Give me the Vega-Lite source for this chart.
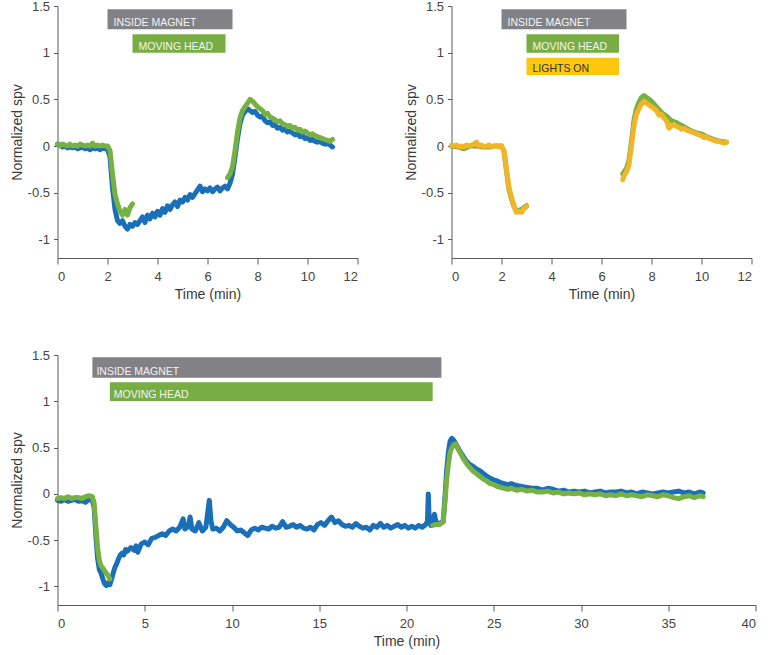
{
  "$schema": "https://vega.github.io/schema/vega-lite/v6.json",
  "background": "white",
  "padding": {"left": 9.5, "top": 0, "right": 5, "bottom": 5},
  "config": {
    "view": {"stroke": null},
    "font": "Liberation Sans",
    "axis": {"grid": false, "domainColor": "#5a5a5a", "tickColor": "#5a5a5a", "tickSize": 4, "labelFontSize": 13, "titleFontSize": 14, "labelColor": "#444444", "titleColor": "#3a3a3a", "titleFontWeight": "normal", "labelPadding": 4, "labelFont": "Liberation Sans", "titleFont": "Liberation Sans"},
    "axisY": {"titlePadding": 3},
    "axisX": {"titlePadding": 4, "tickSize": 6, "labelPadding": 6}
  },
  "datasets": {
    "barsA": [
      {"label": "INSIDE MAGNET", "t": 2, "t2": 7, "v": 1.25, "v2": 1.465},
      {"label": "MOVING HEAD", "t": 3, "t2": 6.72, "v": 1.0, "v2": 1.197}
    ],
    "barsB": [
      {"label": "INSIDE MAGNET", "t": 2, "t2": 7, "v": 1.25, "v2": 1.465},
      {"label": "MOVING HEAD", "t": 3, "t2": 6.7, "v": 1.0, "v2": 1.197},
      {"label": "LIGHTS ON", "t": 3, "t2": 6.7, "v": 0.76, "v2": 0.946}
    ],
    "barsC": [
      {"label": "INSIDE MAGNET", "t": 2, "t2": 22, "v": 1.255, "v2": 1.475},
      {"label": "MOVING HEAD", "t": 3, "t2": 21.5, "v": 1.004, "v2": 1.205}
    ],
    "aBlue": [
      {"t":0.0,"v":0.02},{"t":0.1,"v":0.01},{"t":0.2,"v":-0.01},{"t":0.3,"v":0.0},{"t":0.4,"v":-0.02},{"t":0.5,"v":-0.01},{"t":0.6,"v":-0.02},{"t":0.7,"v":-0.01},{"t":0.8,"v":-0.03},{"t":0.9,"v":-0.02},
      {"t":1.0,"v":-0.01},{"t":1.1,"v":-0.03},{"t":1.2,"v":-0.02},{"t":1.3,"v":-0.04},{"t":1.4,"v":-0.02},{"t":1.5,"v":-0.03},{"t":1.6,"v":-0.02},{"t":1.7,"v":-0.04},{"t":1.8,"v":-0.02},{"t":1.9,"v":-0.03},
      {"t":2.0,"v":-0.03},{"t":2.1,"v":-0.12},{"t":2.2,"v":-0.45},{"t":2.3,"v":-0.68},{"t":2.4,"v":-0.8},{"t":2.5,"v":-0.83},{"t":2.6,"v":-0.8},{"t":2.7,"v":-0.86},{"t":2.8,"v":-0.89},{"t":2.9,"v":-0.84},
      {"t":3.0,"v":-0.86},{"t":3.1,"v":-0.82},{"t":3.2,"v":-0.84},{"t":3.3,"v":-0.8},{"t":3.4,"v":-0.76},{"t":3.5,"v":-0.82},{"t":3.6,"v":-0.74},{"t":3.7,"v":-0.78},{"t":3.8,"v":-0.72},{"t":3.9,"v":-0.76},
      {"t":4.0,"v":-0.7},{"t":4.1,"v":-0.74},{"t":4.2,"v":-0.67},{"t":4.3,"v":-0.71},{"t":4.4,"v":-0.64},{"t":4.5,"v":-0.68},{"t":4.6,"v":-0.63},{"t":4.7,"v":-0.6},{"t":4.8,"v":-0.65},{"t":4.9,"v":-0.58},
      {"t":5.0,"v":-0.6},{"t":5.1,"v":-0.55},{"t":5.2,"v":-0.58},{"t":5.3,"v":-0.52},{"t":5.4,"v":-0.55},{"t":5.5,"v":-0.51},{"t":5.6,"v":-0.47},{"t":5.7,"v":-0.43},{"t":5.8,"v":-0.49},{"t":5.9,"v":-0.46},
      {"t":6.0,"v":-0.48},{"t":6.1,"v":-0.45},{"t":6.2,"v":-0.49},{"t":6.3,"v":-0.46},{"t":6.4,"v":-0.44},{"t":6.5,"v":-0.48},{"t":6.6,"v":-0.45},{"t":6.7,"v":-0.43},{"t":6.8,"v":-0.46},{"t":6.9,"v":-0.4},
      {"t":7.0,"v":-0.3},{"t":7.1,"v":-0.12},{"t":7.2,"v":0.08},{"t":7.3,"v":0.24},{"t":7.4,"v":0.33},{"t":7.5,"v":0.37},{"t":7.6,"v":0.4},{"t":7.7,"v":0.38},{"t":7.8,"v":0.36},{"t":7.9,"v":0.37},
      {"t":8.0,"v":0.33},{"t":8.1,"v":0.31},{"t":8.2,"v":0.32},{"t":8.3,"v":0.27},{"t":8.4,"v":0.25},{"t":8.5,"v":0.26},{"t":8.6,"v":0.22},{"t":8.7,"v":0.23},{"t":8.8,"v":0.19},{"t":8.9,"v":0.2},
      {"t":9.0,"v":0.17},{"t":9.1,"v":0.18},{"t":9.2,"v":0.15},{"t":9.3,"v":0.16},{"t":9.4,"v":0.14},{"t":9.5,"v":0.12},{"t":9.6,"v":0.13},{"t":9.7,"v":0.1},{"t":9.8,"v":0.11},{"t":9.9,"v":0.08},
      {"t":10.0,"v":0.09},{"t":10.1,"v":0.06},{"t":10.2,"v":0.07},{"t":10.3,"v":0.05},{"t":10.4,"v":0.04},{"t":10.5,"v":0.05},{"t":10.6,"v":0.03},{"t":10.7,"v":0.02},{"t":10.8,"v":0.03},{"t":10.9,"v":0.01},{"t":11.0,"v":-0.01}
    ],
    "aGreen": [
      {"k":1,"t":0.0,"v":0.02},{"k":1,"t":0.1,"v":0.0},{"k":1,"t":0.2,"v":0.02},{"k":1,"t":0.3,"v":0.01},{"k":1,"t":0.4,"v":0.0},{"k":1,"t":0.5,"v":0.02},{"k":1,"t":0.6,"v":0.0},{"k":1,"t":0.7,"v":0.01},{"k":1,"t":0.8,"v":0.0},{"k":1,"t":0.9,"v":0.02},
      {"k":1,"t":1.0,"v":0.01},{"k":1,"t":1.1,"v":0.0},{"k":1,"t":1.2,"v":0.01},{"k":1,"t":1.3,"v":0.0},{"k":1,"t":1.4,"v":0.03},{"k":1,"t":1.5,"v":0.0},{"k":1,"t":1.6,"v":0.01},{"k":1,"t":1.7,"v":0.0},{"k":1,"t":1.8,"v":0.01},{"k":1,"t":1.9,"v":0.0},
      {"k":1,"t":2.0,"v":0.0},{"k":1,"t":2.1,"v":-0.05},{"k":1,"t":2.2,"v":-0.3},{"k":1,"t":2.3,"v":-0.52},{"k":1,"t":2.4,"v":-0.62},{"k":1,"t":2.5,"v":-0.7},{"k":1,"t":2.6,"v":-0.74},{"k":1,"t":2.7,"v":-0.68},{"k":1,"t":2.8,"v":-0.74},{"k":1,"t":2.9,"v":-0.66},{"k":1,"t":3.0,"v":-0.62},
      {"k":2,"t":6.8,"v":-0.34},{"k":2,"t":6.9,"v":-0.3},{"k":2,"t":7.0,"v":-0.22},{"k":2,"t":7.1,"v":-0.05},{"k":2,"t":7.2,"v":0.15},{"k":2,"t":7.3,"v":0.3},{"k":2,"t":7.4,"v":0.38},{"k":2,"t":7.5,"v":0.42},{"k":2,"t":7.6,"v":0.46},{"k":2,"t":7.7,"v":0.5},
      {"k":2,"t":7.8,"v":0.48},{"k":2,"t":7.9,"v":0.45},{"k":2,"t":8.0,"v":0.42},{"k":2,"t":8.1,"v":0.4},{"k":2,"t":8.2,"v":0.38},{"k":2,"t":8.3,"v":0.34},{"k":2,"t":8.4,"v":0.35},{"k":2,"t":8.5,"v":0.31},{"k":2,"t":8.6,"v":0.3},{"k":2,"t":8.7,"v":0.28},
      {"k":2,"t":8.8,"v":0.26},{"k":2,"t":8.9,"v":0.27},{"k":2,"t":9.0,"v":0.24},{"k":2,"t":9.1,"v":0.23},{"k":2,"t":9.2,"v":0.21},{"k":2,"t":9.3,"v":0.22},{"k":2,"t":9.4,"v":0.19},{"k":2,"t":9.5,"v":0.2},{"k":2,"t":9.6,"v":0.17},{"k":2,"t":9.7,"v":0.18},
      {"k":2,"t":9.8,"v":0.15},{"k":2,"t":9.9,"v":0.16},{"k":2,"t":10.0,"v":0.14},{"k":2,"t":10.1,"v":0.12},{"k":2,"t":10.2,"v":0.13},{"k":2,"t":10.3,"v":0.11},{"k":2,"t":10.4,"v":0.1},{"k":2,"t":10.5,"v":0.09},{"k":2,"t":10.6,"v":0.08},{"k":2,"t":10.7,"v":0.07},
      {"k":2,"t":10.8,"v":0.06},{"k":2,"t":10.9,"v":0.05},{"k":2,"t":11.0,"v":0.07}
    ],
    "bGreen": [
      {"k":1,"t":0.0,"v":0.0},{"k":1,"t":0.25,"v":-0.01},{"k":1,"t":0.5,"v":-0.03},{"k":1,"t":0.75,"v":0.0},{"k":1,"t":1.0,"v":0.0},{"k":1,"t":1.25,"v":-0.01},{"k":1,"t":1.5,"v":-0.01},{"k":1,"t":1.75,"v":0.0},{"k":1,"t":2.0,"v":0.0},
      {"k":1,"t":2.1,"v":-0.06},{"k":1,"t":2.2,"v":-0.27},{"k":1,"t":2.3,"v":-0.47},{"k":1,"t":2.4,"v":-0.57},{"k":1,"t":2.5,"v":-0.65},{"k":1,"t":2.6,"v":-0.7},{"k":1,"t":2.7,"v":-0.69},{"k":1,"t":2.8,"v":-0.68},{"k":1,"t":2.9,"v":-0.66},{"k":1,"t":3.0,"v":-0.64},
      {"k":2,"t":6.85,"v":-0.3},{"k":2,"t":7.0,"v":-0.24},{"k":2,"t":7.1,"v":-0.15},{"k":2,"t":7.2,"v":0.05},{"k":2,"t":7.3,"v":0.28},{"k":2,"t":7.4,"v":0.4},{"k":2,"t":7.5,"v":0.47},{"k":2,"t":7.6,"v":0.52},{"k":2,"t":7.7,"v":0.54},{"k":2,"t":7.8,"v":0.52},
      {"k":2,"t":7.9,"v":0.5},{"k":2,"t":8.0,"v":0.48},{"k":2,"t":8.2,"v":0.42},{"k":2,"t":8.4,"v":0.36},{"k":2,"t":8.6,"v":0.32},{"k":2,"t":8.8,"v":0.27},{"k":2,"t":9.0,"v":0.25},{"k":2,"t":9.2,"v":0.22},{"k":2,"t":9.4,"v":0.19},{"k":2,"t":9.6,"v":0.16},
      {"k":2,"t":9.8,"v":0.14},{"k":2,"t":10.0,"v":0.13},{"k":2,"t":10.2,"v":0.1},{"k":2,"t":10.4,"v":0.08},{"k":2,"t":10.6,"v":0.06},{"k":2,"t":10.8,"v":0.05},{"k":2,"t":11.0,"v":0.04}
    ],
    "bYellow": [
      {"k":1,"t":0.0,"v":0.01},{"k":1,"t":0.1,"v":0.0},{"k":1,"t":0.2,"v":0.01},{"k":1,"t":0.3,"v":-0.01},{"k":1,"t":0.4,"v":0.0},{"k":1,"t":0.5,"v":-0.01},{"k":1,"t":0.6,"v":0.01},{"k":1,"t":0.7,"v":0.0},{"k":1,"t":0.8,"v":0.01},{"k":1,"t":0.9,"v":0.02},
      {"k":1,"t":1.0,"v":0.04},{"k":1,"t":1.1,"v":0.0},{"k":1,"t":1.2,"v":0.01},{"k":1,"t":1.3,"v":-0.01},{"k":1,"t":1.4,"v":0.0},{"k":1,"t":1.5,"v":0.01},{"k":1,"t":1.6,"v":-0.01},{"k":1,"t":1.7,"v":0.0},{"k":1,"t":1.8,"v":0.0},{"k":1,"t":1.9,"v":-0.01},
      {"k":1,"t":2.0,"v":0.0},{"k":1,"t":2.1,"v":-0.05},{"k":1,"t":2.2,"v":-0.25},{"k":1,"t":2.3,"v":-0.45},{"k":1,"t":2.4,"v":-0.55},{"k":1,"t":2.5,"v":-0.64},{"k":1,"t":2.6,"v":-0.71},{"k":1,"t":2.7,"v":-0.7},{"k":1,"t":2.8,"v":-0.71},{"k":1,"t":2.9,"v":-0.67},{"k":1,"t":3.0,"v":-0.65},
      {"k":2,"t":6.85,"v":-0.36},{"k":2,"t":6.9,"v":-0.32},{"k":2,"t":7.0,"v":-0.28},{"k":2,"t":7.1,"v":-0.2},{"k":2,"t":7.2,"v":0.0},{"k":2,"t":7.3,"v":0.22},{"k":2,"t":7.4,"v":0.34},{"k":2,"t":7.5,"v":0.4},{"k":2,"t":7.6,"v":0.45},{"k":2,"t":7.7,"v":0.48},
      {"k":2,"t":7.8,"v":0.46},{"k":2,"t":7.9,"v":0.44},{"k":2,"t":8.0,"v":0.42},{"k":2,"t":8.1,"v":0.4},{"k":2,"t":8.2,"v":0.38},{"k":2,"t":8.3,"v":0.33},{"k":2,"t":8.4,"v":0.34},{"k":2,"t":8.5,"v":0.3},{"k":2,"t":8.6,"v":0.27},{"k":2,"t":8.7,"v":0.19},
      {"k":2,"t":8.8,"v":0.22},{"k":2,"t":8.9,"v":0.23},{"k":2,"t":9.0,"v":0.21},{"k":2,"t":9.1,"v":0.2},{"k":2,"t":9.2,"v":0.18},{"k":2,"t":9.3,"v":0.19},{"k":2,"t":9.4,"v":0.17},{"k":2,"t":9.5,"v":0.16},{"k":2,"t":9.6,"v":0.15},{"k":2,"t":9.7,"v":0.14},
      {"k":2,"t":9.8,"v":0.13},{"k":2,"t":9.9,"v":0.12},{"k":2,"t":10.0,"v":0.11},{"k":2,"t":10.1,"v":0.09},{"k":2,"t":10.2,"v":0.1},{"k":2,"t":10.3,"v":0.08},{"k":2,"t":10.4,"v":0.07},{"k":2,"t":10.5,"v":0.06},{"k":2,"t":10.6,"v":0.05},{"k":2,"t":10.7,"v":0.05},
      {"k":2,"t":10.8,"v":0.04},{"k":2,"t":10.9,"v":0.03},{"k":2,"t":11.0,"v":0.04}
    ],
    "cBlue": [
      {"t":0.0,"v":-0.07},{"t":0.2,"v":-0.08},{"t":0.4,"v":-0.06},{"t":0.6,"v":-0.08},{"t":0.8,"v":-0.07},{"t":1.0,"v":-0.06},{"t":1.2,"v":-0.08},{"t":1.4,"v":-0.07},{"t":1.6,"v":-0.09},{"t":1.8,"v":-0.06},
      {"t":2.0,"v":-0.07},{"t":2.1,"v":-0.15},{"t":2.2,"v":-0.45},{"t":2.3,"v":-0.7},{"t":2.4,"v":-0.82},{"t":2.5,"v":-0.86},{"t":2.6,"v":-0.92},{"t":2.7,"v":-0.97},{"t":2.8,"v":-0.99},{"t":2.9,"v":-0.96},
      {"t":3.0,"v":-0.98},{"t":3.1,"v":-0.92},{"t":3.2,"v":-0.85},{"t":3.3,"v":-0.79},{"t":3.4,"v":-0.75},{"t":3.5,"v":-0.7},{"t":3.6,"v":-0.66},{"t":3.7,"v":-0.64},{"t":3.8,"v":-0.66},{"t":3.9,"v":-0.6},
      {"t":4.0,"v":-0.62},{"t":4.2,"v":-0.58},{"t":4.4,"v":-0.61},{"t":4.5,"v":-0.56},{"t":4.6,"v":-0.63},{"t":4.8,"v":-0.54},{"t":5.0,"v":-0.52},{"t":5.2,"v":-0.55},{"t":5.4,"v":-0.48},{"t":5.6,"v":-0.47},
      {"t":5.8,"v":-0.45},{"t":6.0,"v":-0.43},{"t":6.2,"v":-0.45},{"t":6.4,"v":-0.4},{"t":6.6,"v":-0.38},{"t":6.8,"v":-0.4},{"t":7.0,"v":-0.36},{"t":7.2,"v":-0.27},{"t":7.3,"v":-0.38},{"t":7.5,"v":-0.35},
      {"t":7.6,"v":-0.25},{"t":7.7,"v":-0.38},{"t":7.9,"v":-0.4},{"t":8.1,"v":-0.31},{"t":8.3,"v":-0.4},{"t":8.5,"v":-0.36},{"t":8.7,"v":-0.07},{"t":8.8,"v":-0.3},{"t":8.9,"v":-0.38},{"t":9.1,"v":-0.37},
      {"t":9.3,"v":-0.4},{"t":9.5,"v":-0.36},{"t":9.7,"v":-0.29},{"t":9.9,"v":-0.33},{"t":10.1,"v":-0.36},{"t":10.3,"v":-0.4},{"t":10.5,"v":-0.39},{"t":10.7,"v":-0.42},{"t":10.9,"v":-0.45},{"t":11.1,"v":-0.39},
      {"t":11.3,"v":-0.37},{"t":11.5,"v":-0.39},{"t":11.7,"v":-0.36},{"t":11.9,"v":-0.37},{"t":12.1,"v":-0.38},{"t":12.3,"v":-0.35},{"t":12.5,"v":-0.37},{"t":12.7,"v":-0.36},{"t":12.9,"v":-0.3},{"t":13.1,"v":-0.36},
      {"t":13.3,"v":-0.35},{"t":13.5,"v":-0.33},{"t":13.7,"v":-0.36},{"t":13.9,"v":-0.34},{"t":14.1,"v":-0.37},{"t":14.3,"v":-0.38},{"t":14.5,"v":-0.36},{"t":14.7,"v":-0.39},{"t":14.9,"v":-0.33},{"t":15.1,"v":-0.31},
      {"t":15.3,"v":-0.34},{"t":15.5,"v":-0.29},{"t":15.7,"v":-0.25},{"t":15.9,"v":-0.31},{"t":16.1,"v":-0.29},{"t":16.3,"v":-0.33},{"t":16.5,"v":-0.35},{"t":16.7,"v":-0.34},{"t":16.9,"v":-0.36},{"t":17.1,"v":-0.32},
      {"t":17.3,"v":-0.35},{"t":17.5,"v":-0.37},{"t":17.7,"v":-0.36},{"t":17.9,"v":-0.39},{"t":18.1,"v":-0.34},{"t":18.3,"v":-0.36},{"t":18.5,"v":-0.32},{"t":18.7,"v":-0.36},{"t":18.9,"v":-0.34},{"t":19.1,"v":-0.37},
      {"t":19.3,"v":-0.35},{"t":19.5,"v":-0.33},{"t":19.7,"v":-0.36},{"t":19.9,"v":-0.34},{"t":20.1,"v":-0.37},{"t":20.3,"v":-0.35},{"t":20.5,"v":-0.37},{"t":20.7,"v":-0.34},{"t":20.9,"v":-0.36},{"t":21.1,"v":-0.33},
      {"t":21.2,"v":-0.3},{"t":21.25,"v":0.0},{"t":21.3,"v":-0.3},{"t":21.4,"v":-0.34},{"t":21.6,"v":-0.22},{"t":21.7,"v":-0.31},{"t":21.9,"v":-0.32},{"t":22.1,"v":-0.3},{"t":22.2,"v":-0.05},{"t":22.3,"v":0.25},
      {"t":22.4,"v":0.45},{"t":22.5,"v":0.57},{"t":22.6,"v":0.6},{"t":22.7,"v":0.58},{"t":22.8,"v":0.55},{"t":23.0,"v":0.48},{"t":23.2,"v":0.42},{"t":23.4,"v":0.36},{"t":23.6,"v":0.32},{"t":23.8,"v":0.3},
      {"t":24.0,"v":0.27},{"t":24.2,"v":0.25},{"t":24.4,"v":0.22},{"t":24.6,"v":0.19},{"t":24.8,"v":0.17},{"t":25.0,"v":0.15},{"t":25.2,"v":0.14},{"t":25.4,"v":0.12},{"t":25.6,"v":0.11},{"t":25.8,"v":0.1},
      {"t":26.0,"v":0.11},{"t":26.3,"v":0.09},{"t":26.6,"v":0.08},{"t":26.9,"v":0.07},{"t":27.2,"v":0.06},{"t":27.5,"v":0.06},{"t":27.8,"v":0.04},{"t":28.1,"v":0.06},{"t":28.4,"v":0.05},{"t":28.7,"v":0.03},
      {"t":29.0,"v":0.04},{"t":29.3,"v":0.02},{"t":29.6,"v":0.03},{"t":29.9,"v":0.02},{"t":30.2,"v":0.03},{"t":30.5,"v":0.01},{"t":30.8,"v":0.02},{"t":31.1,"v":0.03},{"t":31.4,"v":0.01},{"t":31.7,"v":0.02},
      {"t":32.0,"v":0.02},{"t":32.3,"v":0.03},{"t":32.6,"v":0.01},{"t":32.9,"v":0.02},{"t":33.2,"v":0.0},{"t":33.5,"v":0.02},{"t":33.8,"v":0.01},{"t":34.1,"v":0.0},{"t":34.4,"v":0.01},{"t":34.7,"v":0.02},
      {"t":35.0,"v":0.01},{"t":35.3,"v":0.02},{"t":35.6,"v":0.03},{"t":35.9,"v":0.01},{"t":36.2,"v":0.02},{"t":36.5,"v":0.0},{"t":36.8,"v":0.02},{"t":37.0,"v":0.01}
    ],
    "cGreen": [
      {"k":1,"t":0.0,"v":-0.05},{"k":1,"t":0.2,"v":-0.04},{"k":1,"t":0.4,"v":-0.05},{"k":1,"t":0.6,"v":-0.03},{"k":1,"t":0.8,"v":-0.05},{"k":1,"t":1.0,"v":-0.04},{"k":1,"t":1.2,"v":-0.04},{"k":1,"t":1.4,"v":-0.05},{"k":1,"t":1.6,"v":-0.03},{"k":1,"t":1.8,"v":-0.02},
      {"k":1,"t":2.0,"v":-0.03},{"k":1,"t":2.1,"v":-0.1},{"k":1,"t":2.2,"v":-0.35},{"k":1,"t":2.3,"v":-0.58},{"k":1,"t":2.4,"v":-0.72},{"k":1,"t":2.5,"v":-0.78},{"k":1,"t":2.6,"v":-0.8},{"k":1,"t":2.7,"v":-0.83},{"k":1,"t":2.8,"v":-0.86},{"k":1,"t":2.9,"v":-0.88},{"k":1,"t":3.0,"v":-0.92},
      {"k":2,"t":21.5,"v":-0.34},{"k":2,"t":21.7,"v":-0.33},{"k":2,"t":21.9,"v":-0.33},{"k":2,"t":22.1,"v":-0.3},{"k":2,"t":22.2,"v":-0.1},{"k":2,"t":22.3,"v":0.15},{"k":2,"t":22.4,"v":0.32},{"k":2,"t":22.5,"v":0.45},{"k":2,"t":22.6,"v":0.5},{"k":2,"t":22.7,"v":0.53},
      {"k":2,"t":22.8,"v":0.54},{"k":2,"t":22.9,"v":0.51},{"k":2,"t":23.0,"v":0.47},{"k":2,"t":23.2,"v":0.4},{"k":2,"t":23.4,"v":0.34},{"k":2,"t":23.6,"v":0.29},{"k":2,"t":23.8,"v":0.25},{"k":2,"t":24.0,"v":0.22},{"k":2,"t":24.2,"v":0.19},{"k":2,"t":24.4,"v":0.16},
      {"k":2,"t":24.6,"v":0.14},{"k":2,"t":24.8,"v":0.11},{"k":2,"t":25.0,"v":0.1},{"k":2,"t":25.2,"v":0.08},{"k":2,"t":25.4,"v":0.07},{"k":2,"t":25.6,"v":0.06},{"k":2,"t":25.8,"v":0.05},{"k":2,"t":26.0,"v":0.06},{"k":2,"t":26.3,"v":0.04},{"k":2,"t":26.6,"v":0.05},
      {"k":2,"t":26.9,"v":0.03},{"k":2,"t":27.2,"v":0.04},{"k":2,"t":27.5,"v":0.02},{"k":2,"t":27.8,"v":0.02},{"k":2,"t":28.1,"v":0.03},{"k":2,"t":28.4,"v":0.01},{"k":2,"t":28.7,"v":0.02},{"k":2,"t":29.0,"v":0.0},{"k":2,"t":29.3,"v":0.01},{"k":2,"t":29.6,"v":0.0},
      {"k":2,"t":29.9,"v":0.01},{"k":2,"t":30.2,"v":-0.01},{"k":2,"t":30.5,"v":0.0},{"k":2,"t":30.8,"v":-0.01},{"k":2,"t":31.1,"v":0.0},{"k":2,"t":31.4,"v":-0.02},{"k":2,"t":31.7,"v":-0.01},{"k":2,"t":32.0,"v":-0.02},{"k":2,"t":32.3,"v":0.0},{"k":2,"t":32.6,"v":-0.02},
      {"k":2,"t":32.9,"v":-0.01},{"k":2,"t":33.2,"v":-0.02},{"k":2,"t":33.5,"v":-0.03},{"k":2,"t":33.8,"v":-0.01},{"k":2,"t":34.1,"v":-0.02},{"k":2,"t":34.4,"v":-0.03},{"k":2,"t":34.7,"v":-0.01},{"k":2,"t":35.0,"v":-0.02},{"k":2,"t":35.3,"v":-0.04},{"k":2,"t":35.6,"v":-0.05},
      {"k":2,"t":35.9,"v":-0.03},{"k":2,"t":36.2,"v":-0.02},{"k":2,"t":36.5,"v":-0.04},{"k":2,"t":36.8,"v":-0.02},{"k":2,"t":37.0,"v":-0.03}
    ]
  },
  "vconcat": [
    {
      "hconcat": [
        {
          "width": 300, "height": 252,
          "layer": [
            {"data": {"name": "barsA"}, "mark": {"type": "rect"},
             "encoding": {
               "x": {"field": "t", "type": "quantitative", "scale": {"domain": [0, 12], "nice": false}, "axis": {"values": [0,2,4,6,8,10,12], "title": "Time (min)"}},
               "x2": {"field": "t2"},
               "y": {"field": "v", "type": "quantitative", "scale": {"domain": [-1.2, 1.5], "nice": false, "zero": false}, "axis": {"values": [-1,-0.5,0,0.5,1,1.5], "title": "Normalized spv", "labelExpr": "toString(datum.value)"}},
               "y2": {"field": "v2"},
               "color": {"field": "label", "type": "nominal", "scale": {"domain": ["INSIDE MAGNET","MOVING HEAD","LIGHTS ON"], "range": ["#818186","#77ad42","#fec70d"]}, "legend": null}
             }},
            {"data": {"name": "barsA"}, "mark": {"type": "text", "align": "left", "baseline": "alphabetic", "dx": 6, "dy": -3, "fontSize": 10.5, "font": "Liberation Sans"},
             "encoding": {
               "x": {"field": "t", "type": "quantitative", "title": "Time (min)"},
               "y": {"field": "v", "type": "quantitative", "title": "Normalized spv"},
               "text": {"field": "label"},
               "color": {"condition": {"test": "datum.label === 'LIGHTS ON'", "value": "#333333"}, "value": "#f4f4f4"}
             }},
            {"mark": {"type": "rule", "color": "#c3c3c3", "strokeWidth": 3, "strokeDash": [9, 3, 3, 3]},
             "encoding": {"y": {"datum": 0, "type": "quantitative"}}},
            {"data": {"name": "aBlue"}, "mark": {"type": "line", "color": "#1a6fb8", "strokeWidth": 5, "strokeJoin": "round", "strokeCap": "round"},
             "encoding": {"x": {"field": "t", "type": "quantitative", "title": "Time (min)"}, "y": {"field": "v", "type": "quantitative", "title": "Normalized spv"}}},
            {"data": {"name": "aGreen"}, "mark": {"type": "line", "color": "#77b043", "strokeWidth": 5, "strokeJoin": "round", "strokeCap": "round"},
             "encoding": {"x": {"field": "t", "type": "quantitative", "title": "Time (min)"}, "y": {"field": "v", "type": "quantitative", "title": "Normalized spv"}, "detail": {"field": "k", "type": "nominal"}}}
          ]
        },
        {
          "width": 300, "height": 252,
          "layer": [
            {"data": {"name": "barsB"}, "mark": {"type": "rect"},
             "encoding": {
               "x": {"field": "t", "type": "quantitative", "scale": {"domain": [0, 12], "nice": false}, "axis": {"values": [0,2,4,6,8,10,12], "title": "Time (min)"}},
               "x2": {"field": "t2"},
               "y": {"field": "v", "type": "quantitative", "scale": {"domain": [-1.2, 1.5], "nice": false, "zero": false}, "axis": {"values": [-1,-0.5,0,0.5,1,1.5], "title": "Normalized spv", "labelExpr": "toString(datum.value)"}},
               "y2": {"field": "v2"},
               "color": {"field": "label", "type": "nominal", "scale": {"domain": ["INSIDE MAGNET","MOVING HEAD","LIGHTS ON"], "range": ["#818186","#77ad42","#fec70d"]}, "legend": null}
             }},
            {"data": {"name": "barsB"}, "mark": {"type": "text", "align": "left", "baseline": "alphabetic", "dx": 6, "dy": -3, "fontSize": 10.5, "font": "Liberation Sans"},
             "encoding": {
               "x": {"field": "t", "type": "quantitative", "title": "Time (min)"},
               "y": {"field": "v", "type": "quantitative", "title": "Normalized spv"},
               "text": {"field": "label"},
               "color": {"condition": {"test": "datum.label === 'LIGHTS ON'", "value": "#333333"}, "value": "#f4f4f4"}
             }},
            {"mark": {"type": "rule", "color": "#c3c3c3", "strokeWidth": 3, "strokeDash": [9, 3, 3, 3]},
             "encoding": {"y": {"datum": 0, "type": "quantitative"}}},
            {"data": {"name": "bGreen"}, "mark": {"type": "line", "color": "#77b043", "strokeWidth": 5, "strokeJoin": "round", "strokeCap": "round"},
             "encoding": {"x": {"field": "t", "type": "quantitative", "title": "Time (min)"}, "y": {"field": "v", "type": "quantitative", "title": "Normalized spv"}, "detail": {"field": "k", "type": "nominal"}}},
            {"data": {"name": "bYellow"}, "mark": {"type": "line", "color": "#f2b52a", "strokeWidth": 5, "strokeJoin": "round", "strokeCap": "round"},
             "encoding": {"x": {"field": "t", "type": "quantitative", "title": "Time (min)"}, "y": {"field": "v", "type": "quantitative", "title": "Normalized spv"}, "detail": {"field": "k", "type": "nominal"}}}
          ]
        }
      ],
      "spacing": 45
    },
    {
      "width": 698, "height": 250,
      "layer": [
        {"data": {"name": "barsC"}, "mark": {"type": "rect"},
         "encoding": {
           "x": {"field": "t", "type": "quantitative", "scale": {"domain": [0, 40], "nice": false}, "axis": {"values": [0,5,10,15,20,25,30,35,40], "title": "Time (min)"}},
           "x2": {"field": "t2"},
           "y": {"field": "v", "type": "quantitative", "scale": {"domain": [-1.2, 1.5], "nice": false, "zero": false}, "axis": {"values": [-1,-0.5,0,0.5,1,1.5], "title": "Normalized spv", "labelExpr": "toString(datum.value)"}},
           "y2": {"field": "v2"},
           "color": {"field": "label", "type": "nominal", "scale": {"domain": ["INSIDE MAGNET","MOVING HEAD","LIGHTS ON"], "range": ["#818186","#77ad42","#fec70d"]}, "legend": null}
         }},
        {"data": {"name": "barsC"}, "mark": {"type": "text", "align": "left", "baseline": "alphabetic", "dx": 4, "dy": -3, "fontSize": 10.5, "font": "Liberation Sans"},
         "encoding": {
           "x": {"field": "t", "type": "quantitative", "title": "Time (min)"},
           "y": {"field": "v", "type": "quantitative", "title": "Normalized spv"},
           "text": {"field": "label"},
           "color": {"value": "#f4f4f4"}
         }},
        {"mark": {"type": "rule", "color": "#c3c3c3", "strokeWidth": 3, "strokeDash": [9, 3, 3, 3]},
         "encoding": {"y": {"datum": 0, "type": "quantitative"}}},
        {"data": {"name": "cBlue"}, "mark": {"type": "line", "color": "#1a6fb8", "strokeWidth": 5, "strokeJoin": "round", "strokeCap": "round"},
         "encoding": {"x": {"field": "t", "type": "quantitative", "title": "Time (min)"}, "y": {"field": "v", "type": "quantitative", "title": "Normalized spv"}}},
        {"data": {"name": "cGreen"}, "mark": {"type": "line", "color": "#77b043", "strokeWidth": 5, "strokeJoin": "round", "strokeCap": "round"},
         "encoding": {"x": {"field": "t", "type": "quantitative", "title": "Time (min)"}, "y": {"field": "v", "type": "quantitative", "title": "Normalized spv"}, "detail": {"field": "k", "type": "nominal"}}}
      ]
    }
  ],
  "spacing": 48
}
